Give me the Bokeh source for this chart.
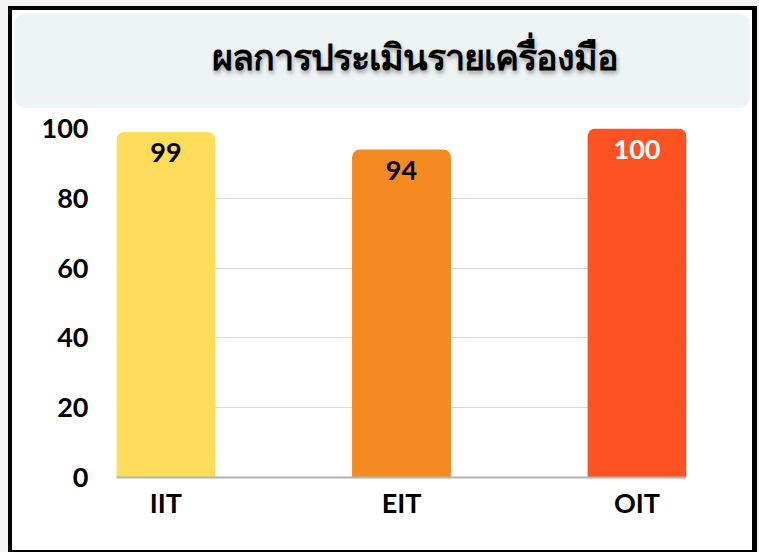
from bokeh.plotting import figure
from bokeh.models import FixedTicker, ColumnDataSource, Div
from bokeh.layouts import column
from bokeh.embed import file_html
from bokeh.resources import INLINE

title_text = "ผลการประเมินรายเครื่องมือ"
categories = ["IIT", "EIT", "OIT"]
scores = [99, 94, 100]
bar_colors = ["#FFDC5A", "#F58A20", "#FF5223"]
label_colors = ["#000000", "#000000", "#FFFFFF"]
y_ticks = [0, 20, 40, 60, 80, 100]

FONT = "Lato"

xs = list(range(len(categories)))
src = ColumnDataSource(dict(x=xs, top=scores, color=bar_colors,
                            label=[str(v) for v in scores], lcolor=label_colors))

title_div = Div(
    text=title_text, width=736, height=95, margin=(3, 2, 0, 2),
    styles={"background-color": "#EEF3F3", "border-radius": "12px",
            "font-family": "'Noto Sans', sans-serif", "font-weight": "900",
            "font-size": "36px", "letter-spacing": "-1px", "color": "#000000",
            "text-shadow": "1px 3px 4px rgba(0,0,0,0.35)",
            "display": "flex", "align-items": "center",
            "justify-content": "center", "padding-left": "66px",
            "padding-bottom": "8px", "box-sizing": "border-box"})

p = figure(width=740, height=442, output_backend="svg", toolbar_location=None,
           x_range=(-0.21, len(categories) - 1 + 0.21), y_range=(0, 100),
           min_border_left=104, min_border_right=66,
           min_border_top=20, min_border_bottom=73,
           background_fill_color="white", border_fill_color="white",
           outline_line_color=None, margin=(0, 0, 0, 0))

p.vbar(x="x", top="top", width=0.42, fill_color="color", line_color=None,
       border_radius=(8, 8, 0, 0), source=src)
p.text(x="x", y="top", text="label", text_color="lcolor",
       text_align="center", text_baseline="middle", y_offset=21,
       text_font={"value": FONT}, text_font_style="bold",
       text_font_size="27px", source=src)

p.xaxis.ticker = FixedTicker(ticks=xs)
p.xaxis.major_label_overrides = {i: c for i, c in enumerate(categories)}
p.yaxis.ticker = FixedTicker(ticks=y_ticks)

for ax in (p.xaxis[0], p.yaxis[0]):
    ax.major_tick_line_color = None
    ax.minor_tick_line_color = None
    ax.major_label_text_font = FONT
    ax.major_label_text_font_style = "bold"
    ax.major_label_text_font_size = "27px"
    ax.major_label_text_color = "black"

p.yaxis.axis_line_color = None
p.yaxis.major_label_standoff = 22
p.xaxis.axis_line_color = "#B3B3B3"
p.xaxis.axis_line_width = 2
p.xaxis.major_label_standoff = 2

p.xgrid.grid_line_color = None
p.ygrid.grid_line_color = "#D9D9D9"
p.ygrid.grid_line_width = 1

card = column(title_div, p, spacing=0, margin=(6, 2, 0, 8),
              styles={"border": "4px solid black", "border-right-width": "5px",
                      "background-color": "white"})
page = column(card, spacing=0, margin=0,
              styles={"background-color": "#F4F4F4", "width": "759px",
                      "height": "552px", "overflow": "hidden"})

open("out.html", "w").write(file_html(page, INLINE))
